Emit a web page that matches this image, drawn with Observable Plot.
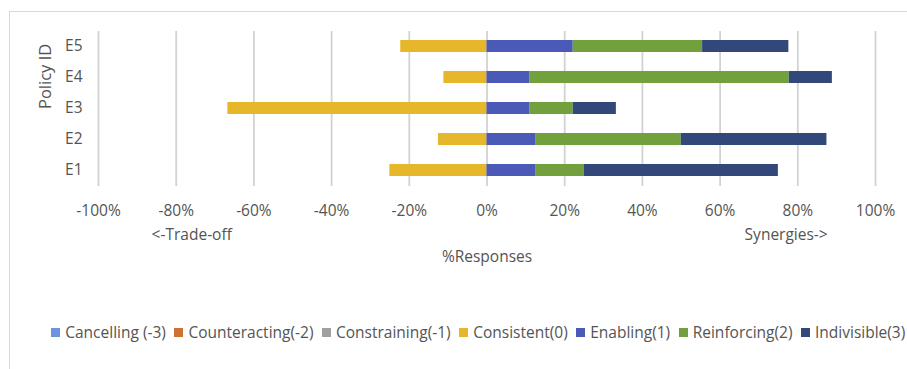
<!DOCTYPE html>
<html>
<head>
<meta charset="utf-8">
<script src="https://cdn.jsdelivr.net/npm/d3@7"></script>
<script src="https://cdn.jsdelivr.net/npm/@observablehq/plot@0.6"></script>
<style>
  html, body { margin: 0; padding: 0; background: #fff; width: 907px; height: 369px; overflow: hidden; }
  #frame { position: absolute; left: 9px; top: 11px; width: 920px; height: 400px;
           border-top: 1.5px solid #d9d9d9; border-left: 1.5px solid #d9d9d9; }
  #chart { position: absolute; left: 0; top: 0; }
  #legend { position: absolute; top: 321px; left: 0; width: 907px; display: flex; justify-content: center;
            font-family: "Open Sans", sans-serif; font-size: 15.5px; color: #545454; padding-left: 58px; box-sizing: border-box; }
  .item { display: flex; align-items: center; margin-right: 8.5px; white-space: nowrap; }
  .sw { width: 9px; height: 9px; margin-right: 5px; display: inline-block; }
</style>
</head>
<body>
<div id="frame"></div>
<div id="chart"></div>
<div id="legend"></div>
<script>
// ---- data (percent of responses) ----
const policies = ["E1", "E2", "E3", "E4", "E5"];
const seriesNames = ["Cancelling (-3)", "Counteracting(-2)", "Constraining(-1)", "Consistent(0)", "Enabling(1)", "Reinforcing(2)", "Indivisible(3)"];
const seriesColors = ["#6b95dc", "#cf7134", "#a0a0a0", "#e6b72a", "#4a5ab6", "#72a03d", "#32487a"];
const cancelling    = [0, 0, 0, 0, 0];
const counteracting = [0, 0, 0, 0, 0];
const constraining  = [0, 0, 0, 0, 0];
const consistent    = [25, 12.5, 66.7, 11.1, 22.2];   // drawn to the left (trade-off side)
const enabling      = [12.5, 12.5, 11.1, 11.1, 22.2];
const reinforcing   = [12.5, 37.5, 11.1, 66.7, 33.3];
const indivisible   = [50, 37.5, 11.1, 11.1, 22.2];
const xTicks = [-100, -80, -60, -40, -20, 0, 20, 40, 60, 80, 100];
const annotations = [{label: "<-Trade-off", x: -76}, {label: "Synergies->", x: 77}];

const seriesValues = [cancelling, counteracting, constraining, consistent, enabling, reinforcing, indivisible];
const leftSide = new Set(["Cancelling (-3)", "Counteracting(-2)", "Constraining(-1)", "Consistent(0)"]);
const data = [];
seriesNames.forEach((s, k) => {
  policies.forEach((p, i) => {
    const v = seriesValues[k][i];
    if (v) data.push({policy: p, series: s, value: leftSide.has(s) ? -v : v});
  });
});

const font = "'Open Sans', sans-serif";
const fs = 15.5;
const ink = "#545454";
const chart = Plot.plot({
  width: 907,
  height: 300,
  marginLeft: 98,
  marginRight: 32,
  marginTop: 31,
  marginBottom: 114,
  style: {fontFamily: font, fontSize: fs + "px", color: ink, background: "transparent", overflow: "visible"},
  x: {domain: [-100, 100]},
  y: {domain: policies.slice().reverse(), paddingInner: 0.6, paddingOuter: 0.3},
  color: {domain: seriesNames, range: seriesColors},
  marks: [
    Plot.ruleX(xTicks, {stroke: "#d2d2d2", strokeWidth: 1.8}),
    Plot.barX(data, Plot.stackX({x: "value", y: "policy", fill: "series", order: seriesNames})),
    Plot.axisX({ticks: xTicks, tickSize: 0, tickPadding: 18, tickFormat: d => d + "%", label: null, fontSize: fs, fill: ink}),
    Plot.axisY({tickSize: 0, tickPadding: 16, label: null, fontSize: fs, fill: ink}),
    Plot.text(annotations, {x: "x", text: "label", frameAnchor: "bottom", dy: 53, fontSize: fs, fill: ink}),
    Plot.text(["%Responses"], {text: d => d, frameAnchor: "bottom", dy: 75, fontSize: fs, fill: ink}),
    Plot.text(["Policy ID"], {text: d => d, frameAnchor: "left", dx: -53, rotate: -90, fontSize: 16.5, fill: ink})
  ]
});
document.getElementById("chart").appendChild(chart);

const legend = document.getElementById("legend");
seriesNames.forEach((s, k) => {
  const it = document.createElement("div");
  it.className = "item";
  const sw = document.createElement("span");
  sw.className = "sw";
  sw.style.background = seriesColors[k];
  it.appendChild(sw);
  it.appendChild(document.createTextNode(s));
  legend.appendChild(it);
});
</script>
</body>
</html>
